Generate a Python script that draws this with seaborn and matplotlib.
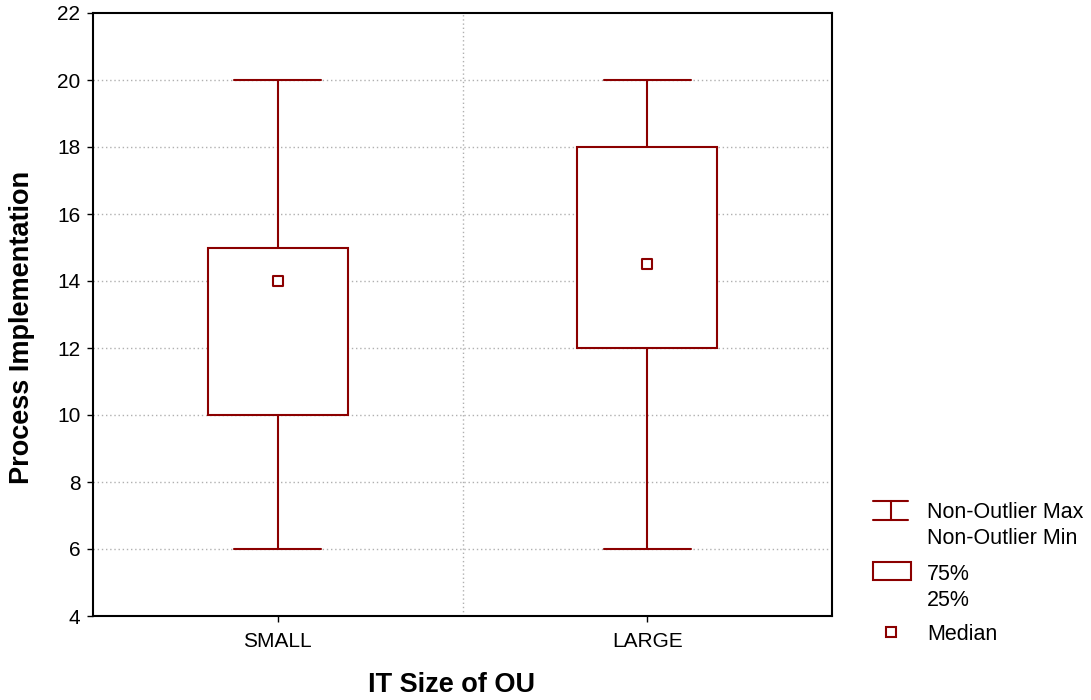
import numpy as np
import pandas as pd
import matplotlib
matplotlib.use("Agg")
import matplotlib.pyplot as plt
import seaborn as sns
from matplotlib.lines import Line2D
from matplotlib.patches import Rectangle

# ---- data (five-number summaries) ----
categories = ["SMALL", "LARGE"]
nonoutlier_min = [6, 6]
q25 = [10, 12]
medians = [14, 14.5]
q75 = [15, 18]
nonoutlier_max = [20, 20]

COLOR = "#8B0000"

# long-form frame whose percentiles reproduce the summaries exactly
rows = []
for c, a, b, m, d, e in zip(categories, nonoutlier_min, q25, medians, q75, nonoutlier_max):
    for v in (a, b, m, d, e):
        rows.append({"size": c, "value": v})
df = pd.DataFrame(rows)
med_df = pd.DataFrame({"size": categories, "value": medians})

sns.set_style("white")
plt.rcParams["font.family"] = ["Liberation Sans", "DejaVu Sans"]
plt.rcParams["text.color"] = "black"
plt.rcParams["axes.labelcolor"] = "black"
plt.rcParams["xtick.color"] = "black"
plt.rcParams["ytick.color"] = "black"

fig = plt.figure(figsize=(10.91, 7.0), dpi=100)
ax = fig.add_axes([93 / 1091, 1 - 616 / 700, (832 - 93) / 1091, (616 - 13) / 700])

sns.boxplot(data=df, x="size", y="value", order=categories, whis=(0, 100),
            width=0.38, color="white", linecolor=COLOR, linewidth=1.5,
            saturation=1, medianprops=dict(visible=False),
            showfliers=False, ax=ax)
for p in ax.patches:
    p.set_zorder(3)
# caps width
for line in ax.lines:
    xd = line.get_xdata()
    yd = line.get_ydata()
    line.set_zorder(3)
    if len(xd) == 2 and xd[0] != xd[1] and yd[0] == yd[1] and yd[0] in (nonoutlier_min + nonoutlier_max):
        cx = (xd[0] + xd[1]) / 2
        line.set_xdata([cx - 0.118, cx + 0.118])

sns.scatterplot(data=med_df, x="size", y="value", marker="s", s=60,
                color="white", edgecolor=COLOR, linewidth=1.5, zorder=5, ax=ax)

ax.set_xlim(-0.5, 1.5)
ax.set_ylim(4, 22)
ax.set_yticks(np.arange(4, 23, 2))
ax.set_yticklabels([str(v) for v in range(4, 23, 2)])
ax.set_xticks([0, 1])
ax.set_xticklabels(categories)
ax.tick_params(axis="both", labelsize=15, length=4, width=1, direction="out",
               colors="black", left=True, bottom=True, pad=5)
ax.tick_params(axis="x", pad=7.5)
ax.set_xlabel("IT Size of OU", fontsize=19.5, fontweight="bold")
ax.set_ylabel("Process Implementation", fontsize=19.5, fontweight="bold")
ax.xaxis.set_label_coords((451 - 93) / (832 - 93), -(685 - 616) / (616 - 13))
ax.yaxis.set_label_coords(-(93 - 22) / (832 - 93), (616 - 327) / (616 - 13))
ax.xaxis.label.set_va("center")
ax.yaxis.label.set_va("center")

# gridlines
for y in range(6, 22, 2):
    ax.axhline(y, color="#b0b0b0", linestyle=(0, (1, 2)), linewidth=1, zorder=0)
ax.axvline(0.5, color="#b0b0b0", linestyle=(0, (1, 2)), linewidth=1, zorder=0)

for s in ax.spines.values():
    s.set_visible(True)
    s.set_color("black")
    s.set_linewidth(1.5)

# ---- legend drawn in pixel space ----
def px(x, y):
    return x / 1091, 1 - y / 700

tr = fig.transFigure
lw = 1.5
fig.add_artist(Line2D(*zip(px(873, 501), px(908, 501)), color=COLOR, lw=lw, transform=tr))
fig.add_artist(Line2D(*zip(px(873, 520), px(908, 520)), color=COLOR, lw=lw, transform=tr))
fig.add_artist(Line2D(*zip(px(891, 501), px(891, 520)), color=COLOR, lw=lw, transform=tr))
x0, y0 = px(873, 580)
x1, y1 = px(911, 562)
fig.add_artist(Rectangle((x0, y0), x1 - x0, y1 - y0, fill=False, edgecolor=COLOR, lw=lw, transform=tr))
x0, y0 = px(886, 637)
x1, y1 = px(896, 627)
fig.add_artist(Rectangle((x0, y0), x1 - x0, y1 - y0, fill=False, edgecolor=COLOR, lw=lw, transform=tr))

for txt, y in [("Non-Outlier Max", 513), ("Non-Outlier Min", 539), ("75%", 574),
               ("25%", 600), ("Median", 634)]:
    fx, fy = px(927, y)
    fig.text(fx, fy, txt, fontsize=15.5, va="center", ha="left")

fig.savefig("out.png", dpi=100)
